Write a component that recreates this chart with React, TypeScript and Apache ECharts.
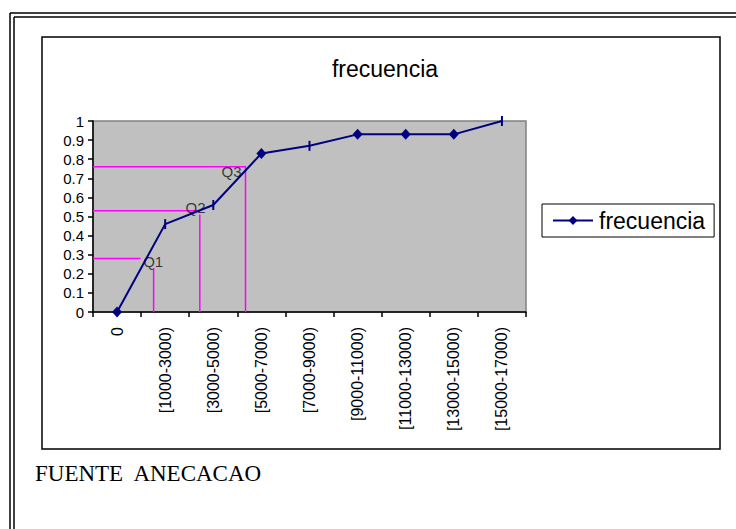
import React, { useEffect, useRef } from "react";
import * as echarts from "echarts";

const categories = [
  "0",
  "[1000-3000)",
  "[3000-5000)",
  "[5000-7000)",
  "[7000-9000)",
  "[9000-11000)",
  "[11000-13000)",
  "[13000-15000)",
  "[15000-17000)",
];
const frecuencia = [0, 0.46, 0.56, 0.83, 0.87, 0.93, 0.93, 0.93, 1];
const markerShapes = ["diamond", "dash", "dash", "diamond", "dash", "diamond", "diamond", "diamond", "dash"];

const quartileNames = ["Q1", "Q2", "Q3"];
const quartileLevel = [0.28, 0.53, 0.76];
const quartileHorizEnd = [0.49, 1.7, 2.68];
const quartileVertX = [0.76, 1.72, 2.67];
const quartileVertTop = [0.23, 0.51, 0.76];
const quartileLabelX = [0.75, 1.63, 2.38];
const quartileLabelY = [0.263, 0.545, 0.735];

const yTicks = [0, 0.1, 0.2, 0.3, 0.4, 0.5, 0.6, 0.7, 0.8, 0.9, 1];

export default function App() {
  const ref = useRef<HTMLDivElement>(null);
  useEffect(() => {
    if (!ref.current) return;
    const chart = echarts.init(ref.current, null, { renderer: "svg" });
    const navy = "#000080";
    const magenta = "#FF00FF";
    const sans = "Arial, 'Liberation Sans', sans-serif";

    const seriesData = frecuencia.map((v, i) =>
      markerShapes[i] === "diamond"
        ? { value: v, symbol: "diamond", symbolSize: [10, 11] }
        : { value: v, symbol: "rect", symbolSize: [2, 10] }
    );

    const quartileSeries: any[] = [];
    quartileNames.forEach((q, i) => {
      quartileSeries.push({
        type: "line",
        xAxisIndex: 1,
        yAxisIndex: 0,
        symbol: "none",
        silent: true,
        lineStyle: { color: magenta, width: 1.5 },
        data: [
          [-0.5, quartileLevel[i]],
          [quartileHorizEnd[i], quartileLevel[i]],
        ],
        z: 1,
      });
      quartileSeries.push({
        type: "line",
        xAxisIndex: 1,
        yAxisIndex: 0,
        symbol: "none",
        silent: true,
        lineStyle: { color: magenta, width: 1.5 },
        data: [
          [quartileVertX[i], 0],
          [quartileVertX[i], quartileVertTop[i]],
        ],
        z: 1,
      });
    });

    const option: any = {
      animation: false,
      backgroundColor: "#ffffff",
      textStyle: { fontFamily: sans },
      title: {
        text: "frecuencia",
        left: 380,
        textAlign: "center",
        top: 52,
        textStyle: {
          fontFamily: sans,
          fontSize: 23,
          fontWeight: "normal",
          color: "#000",
        },
      },
      legend: {
        left: 542,
        top: 204,
        data: ["frecuencia"],
        itemWidth: 40,
        itemHeight: 11,
        padding: [5, 9, 5, 10],
        borderColor: "#000",
        borderWidth: 1,
        textStyle: {
          fontFamily: sans,
          fontSize: 23,
          color: "#000",
          padding: [0, 0, 0, 1],
        },
      },
      grid: {
        left: 93,
        top: 121,
        width: 433,
        height: 191,
        show: true,
        backgroundColor: "#C0C0C0",
        borderColor: "#808080",
        borderWidth: 1.5,
      },
      xAxis: [
        {
          type: "category",
          data: categories,
          boundaryGap: true,
          axisLine: { show: true, onZero: false, lineStyle: { color: "#000", width: 1.5 } },
          axisTick: { show: true, inside: false, length: 5, alignWithLabel: false, lineStyle: { color: "#000", width: 1.5 } },
          axisLabel: {
            rotate: 90,
            interval: 0,
            margin: 15,
            fontSize: 16,
            color: "#000",
            fontFamily: sans,
          },
          splitLine: { show: false },
        },
        {
          type: "value",
          min: -0.5,
          max: 8.5,
          show: false,
          splitLine: { show: false },
        },
      ],
      yAxis: {
        type: "value",
        min: 0,
        max: 1,
        interval: 0.1,
        axisLine: { show: true, onZero: false, lineStyle: { color: "#000", width: 1.5 } },
        axisTick: { show: true, inside: false, length: 5, lineStyle: { color: "#000", width: 1.5 } },
        axisLabel: {
          margin: 9,
          fontSize: 15,
          color: "#000",
          fontFamily: sans,
          formatter: (v: number) => {
            const r = Math.round(v * 10) / 10;
            return yTicks.indexOf(r) >= 0 ? String(r) : "";
          },
        },
        splitLine: { show: false },
      },
      series: [
        ...quartileSeries,
        {
          type: "scatter",
          xAxisIndex: 1,
          yAxisIndex: 0,
          symbolSize: 0,
          silent: true,
          data: quartileNames.map((n, i) => ({ name: n, value: [quartileLabelX[i], quartileLabelY[i]] })),
          label: {
            show: true,
            position: "inside",
            formatter: (p: any) => p.name,
            fontSize: 15,
            color: "#111",
            fontFamily: sans,
          },
          z: 3,
        },
        {
          name: "frecuencia",
          type: "line",
          data: seriesData,
          symbol: "diamond",
          symbolSize: 9,
          color: navy,
          itemStyle: { color: navy },
          lineStyle: { color: navy, width: 2 },
          z: 5,
        },
      ],
      graphic: [
        { type: "line", shape: { x1: 10, y1: 13, x2: 736, y2: 13 }, style: { stroke: "#000", lineWidth: 1.5 } },
        { type: "line", shape: { x1: 14, y1: 17, x2: 736, y2: 17 }, style: { stroke: "#000", lineWidth: 1.5 } },
        { type: "line", shape: { x1: 10, y1: 13, x2: 10, y2: 529 }, style: { stroke: "#000", lineWidth: 1.5 } },
        { type: "line", shape: { x1: 14, y1: 17, x2: 14, y2: 529 }, style: { stroke: "#000", lineWidth: 1.5 } },
        {
          type: "rect",
          shape: { x: 42, y: 37, width: 678, height: 412 },
          style: { fill: "none", stroke: "#000", lineWidth: 1.5 },
          z: -10,
        },
        {
          type: "text",
          x: 35,
          y: 473,
          style: {
            text: "FUENTE  ANECACAO",
            fontFamily: "'Times New Roman', 'Liberation Serif', serif",
            fontSize: 23,
            fill: "#000",
            textVerticalAlign: "middle",
          },
        },
      ],
    };
    chart.setOption(option);
    return () => chart.dispose();
  }, []);
  return (
    <div
      ref={ref}
      style={{ position: "absolute", left: 0, top: 0, width: 736, height: 529 }}
    />
  );
}
